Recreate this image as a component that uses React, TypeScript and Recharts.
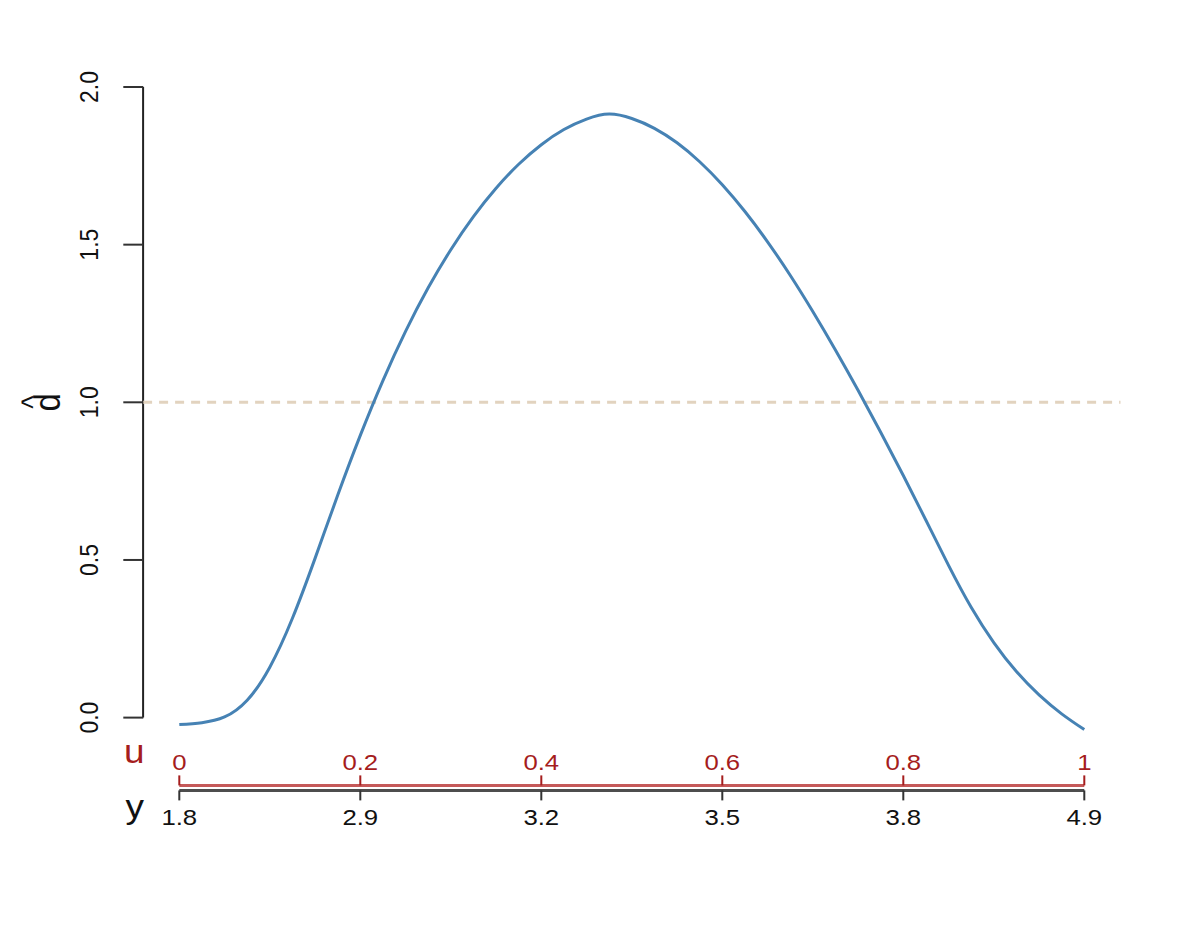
import React from 'react';
import { LineChart, Line, XAxis, YAxis, ReferenceLine } from 'recharts';

// ---- data ----
const uGrid = [
  0, 0.025, 0.05, 0.075, 0.1, 0.125, 0.15, 0.175, 0.2, 0.225,
  0.25, 0.275, 0.3, 0.325, 0.35, 0.375, 0.4, 0.425, 0.45, 0.475,
  0.5, 0.525, 0.55, 0.575, 0.6, 0.625, 0.65, 0.675, 0.7, 0.725,
  0.75, 0.775, 0.8, 0.825, 0.85, 0.875, 0.9, 0.925, 0.95, 0.975, 1,
];
const dHat = [
  -0.022, -0.016, 0.002, 0.055, 0.16, 0.315, 0.505, 0.705, 0.895, 1.069,
  1.225, 1.363, 1.484, 1.589, 1.679, 1.755, 1.817, 1.865, 1.898, 1.914,
  1.9, 1.869, 1.823, 1.763, 1.69, 1.605, 1.509, 1.403, 1.288, 1.166,
  1.038, 0.905, 0.768, 0.626, 0.483, 0.35, 0.238, 0.146, 0.072, 0.012, -0.038,
];
const dTicks = [0, 0.5, 1, 1.5, 2];
const uTicks = [0, 0.2, 0.4, 0.6, 0.8, 1];
const yQuantileLabels = ['1.8', '2.9', '3.2', '3.5', '3.8', '4.9'];
const refLevel = 1;

const data = uGrid.map((u, i) => ({ u, d: dHat[i] }));

// ---- styling ----
const FONT = '"Liberation Sans", Arial, Helvetica, sans-serif';
const SX = 1.12; // reference is stretched horizontally
const RED = '#a51d1d';
const BLUE = '#4682b4';
const D_MIN = -0.215;
const D_MAX = 2;
const X_EXT = 0.04;

const DTick = (props: any) => {
  const { x, y, payload } = props;
  return (
    <text
      transform={`translate(${x - 25} ${y}) scale(${SX} 1) rotate(-90)`}
      textAnchor="middle"
      fontSize={23}
      fill="#111"
      fontFamily={FONT}
    >
      {Number(payload.value).toFixed(1)}
    </text>
  );
};

const UTick = (props: any) => {
  const { x, y, payload } = props;
  return (
    <text
      transform={`translate(${x} ${y - 5.4}) scale(${SX} 1)`}
      textAnchor="middle"
      fontSize={23}
      fill={RED}
      fontFamily={FONT}
    >
      {String(payload.value)}
    </text>
  );
};

const QTick = (props: any) => {
  const { x, y, payload } = props;
  const idx = uTicks.indexOf(payload.value);
  return (
    <text
      transform={`translate(${x} ${y + 24.6}) scale(${SX} 1)`}
      textAnchor="middle"
      fontSize={23}
      fill="#111"
      fontFamily={FONT}
    >
      {yQuantileLabels[idx]}
    </text>
  );
};

const DLabel = (props: any) => {
  const vb = props.viewBox || { x: 0, y: 0, width: 0, height: 0 };
  const cy = vb.y + ((D_MAX - refLevel) / (D_MAX - D_MIN)) * vb.height;
  const bx = vb.x + 60;
  return (
    <g transform={`translate(${bx} ${cy}) scale(${SX} 1) rotate(-90)`} fontFamily={FONT} fill="#111">
      <text x={0} y={0} textAnchor="middle" fontSize={33}>d</text>
      <text x={0} y={-15.4} textAnchor="middle" fontSize={28}>^</text>
    </g>
  );
};

const ULabel = (props: any) => {
  const vb = props.viewBox || { x: 0, y: 0 };
  return (
    <text
      transform={`translate(${vb.x - 45} ${vb.y - 22.4}) scale(${SX} 1)`}
      textAnchor="middle"
      fontSize={33}
      fill={RED}
      fontFamily={FONT}
    >
      u
    </text>
  );
};

const YLabel = (props: any) => {
  const vb = props.viewBox || { x: 0, y: 0 };
  return (
    <text
      transform={`translate(${vb.x - 44.5} ${vb.y + 27.6}) scale(${SX} 1)`}
      textAnchor="middle"
      fontSize={33}
      fill="#111"
      fontFamily={FONT}
    >
      y
    </text>
  );
};

export default function App() {
  return (
    <div style={{ position: 'absolute', left: 0, top: 0, background: '#fff' }}>
      <LineChart
        width={1196}
        height={934}
        data={data}
        margin={{ top: 87, right: 111.7, left: 0, bottom: 83.6 }}
        style={{ fontFamily: FONT }}
      >
        <XAxis
          xAxisId="b"
          dataKey="u"
          type="number"
          domain={[0, 1]}
          ticks={uTicks}
          interval={0}
          height={60}
          tickSize={10}
          tickMargin={0}
          axisLine={{ stroke: '#4d4d4d', strokeWidth: 3 }}
          tickLine={{ stroke: '#333', strokeWidth: 2 }}
          tick={QTick}
          label={YLabel}
        />
        <XAxis
          xAxisId="a"
          dataKey="u"
          type="number"
          domain={[0, 1]}
          ticks={uTicks}
          interval={0}
          height={5}
          tickSize={-10}
          tickMargin={0}
          axisLine={{ stroke: '#b22222', strokeWidth: 3, strokeOpacity: 0.75 }}
          tickLine={{ stroke: RED, strokeWidth: 2 }}
          tick={UTick}
          label={ULabel}
        />
        <YAxis
          yAxisId="y1"
          type="number"
          domain={[D_MIN, D_MAX]}
          ticks={dTicks}
          interval={0}
          width={143.3}
          tickSize={20}
          tickMargin={0}
          axisLine={false}
          tickLine={{ stroke: '#333', strokeWidth: 2 }}
          tick={DTick}
          label={DLabel}
        />
        <YAxis yAxisId="y0" width={36} tick={false} axisLine={false} tickLine={false} />
        <ReferenceLine
          xAxisId="a"
          yAxisId="y1"
          segment={[{ x: -X_EXT, y: dTicks[0] }, { x: -X_EXT, y: dTicks[dTicks.length - 1] }]}
          ifOverflow="visible"
          stroke="#222"
          strokeWidth={2}
        />
        <ReferenceLine
          xAxisId="a"
          yAxisId="y1"
          segment={[{ x: -X_EXT, y: refLevel }, { x: 1 + X_EXT, y: refLevel }]}
          ifOverflow="visible"
          stroke="#e2d3bf"
          strokeWidth={3}
          strokeDasharray="9 7"
        />
        <Line
          xAxisId="a"
          yAxisId="y1"
          dataKey="d"
          type="natural"
          stroke={BLUE}
          strokeWidth={3}
          dot={false}
          isAnimationActive={false}
        />
      </LineChart>
    </div>
  );
}
